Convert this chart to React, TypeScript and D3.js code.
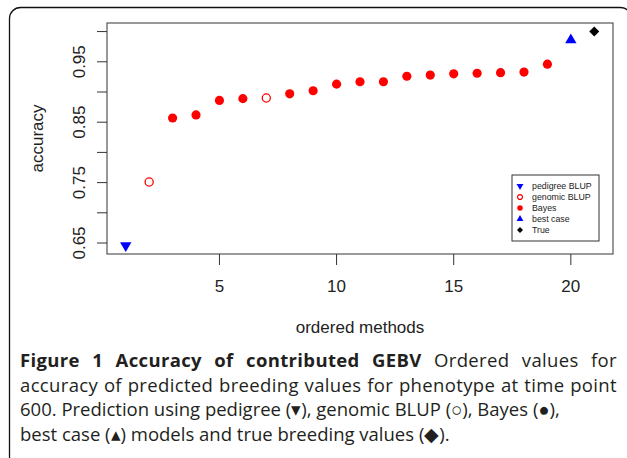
import React, { useEffect, useRef } from 'react';
import * as d3 from 'd3';

// ordered methods 1..21 and their accuracy
const methodIndex = d3.range(1, 22);
const methodType = [
  'pedigree', 'gblup', 'bayes', 'bayes', 'bayes', 'bayes', 'gblup',
  'bayes', 'bayes', 'bayes', 'bayes', 'bayes', 'bayes', 'bayes',
  'bayes', 'bayes', 'bayes', 'bayes', 'bayes', 'best', 'true',
];
const accuracy = [
  0.646, 0.751, 0.857, 0.862, 0.886, 0.889, 0.890,
  0.897, 0.902, 0.913, 0.917, 0.917, 0.926, 0.928,
  0.930, 0.931, 0.932, 0.933, 0.946, 0.986, 1.0,
];
const yTicks = [0.65, 0.7, 0.75, 0.8, 0.85, 0.9, 0.95, 1.0];
const yLabels = [0.65, 0.75, 0.85, 0.95];
const xTicks = [5, 10, 15, 20];
const legendKeys = ['pedigree', 'gblup', 'bayes', 'best', 'true'];
const legendLabels = ['pedigree BLUP', 'genomic BLUP', 'Bayes', 'best case', 'True'];

const captionBold = 'Figure 1 Accuracy of contributed GEBV';
const captionLines = [
  ' Ordered values for',
  'accuracy of predicted breeding values for phenotype at time point',
  '600. Prediction using pedigree (\u25BE), genomic BLUP (\u25CB), Bayes (\u25CF),',
  'best case (\u25B4) models and true breeding values (\u25C6).',
];
// justified lines stretch to the right margin
const captionJustify = [true, true, false, false];

export default function App() {
  const ref = useRef<SVGSVGElement>(null);

  useEffect(() => {
    if (!ref.current) return;
    const svg = d3.select(ref.current);
    svg.selectAll('*').remove();

    const width = 627;
    const height = 458;
    const plot = { left: 107, right: 613, top: 23, bottom: 254 };

    svg.attr('width', width).attr('height', height);
    svg.append('rect').attr('width', width).attr('height', height).attr('fill', 'white');

    // outer figure frame
    svg.append('rect')
      .attr('x', 9.5).attr('y', 7.5)
      .attr('width', 622).attr('height', 460)
      .attr('rx', 11)
      .attr('fill', 'none')
      .attr('stroke', '#111')
      .attr('stroke-width', 1.3);

    const x = d3.scaleLinear().domain([0.2, 21.8]).range([plot.left, plot.right]);
    const y = d3.scaleLinear().domain([0.6318, 1.0142]).range([plot.bottom, plot.top]);

    const axisFont = "'Liberation Sans', Arial, sans-serif";

    // plot box
    svg.append('rect')
      .attr('x', plot.left).attr('y', plot.top)
      .attr('width', plot.right - plot.left).attr('height', plot.bottom - plot.top)
      .attr('fill', 'none')
      .attr('stroke', '#555')
      .attr('stroke-width', 1.2);

    // y axis
    const yAxis = svg.append('g');
    yAxis.selectAll('line')
      .data(yTicks)
      .join('line')
      .attr('x1', plot.left - 10).attr('x2', plot.left)
      .attr('y1', d => y(d)).attr('y2', d => y(d))
      .attr('stroke', '#333');
    yAxis.selectAll('text')
      .data(yLabels)
      .join('text')
      .attr('transform', d => `translate(85,${y(d)}) rotate(-90)`)
      .attr('text-anchor', 'middle')
      .style('font-family', axisFont)
      .style('font-size', '17px')
      .attr('fill', '#222')
      .text(d => d.toFixed(2));

    // x axis
    const xAxis = svg.append('g');
    xAxis.selectAll('line')
      .data(xTicks)
      .join('line')
      .attr('x1', d => x(d)).attr('x2', d => x(d))
      .attr('y1', plot.bottom).attr('y2', plot.bottom + 11)
      .attr('stroke', '#333');
    xAxis.selectAll('text')
      .data(xTicks)
      .join('text')
      .attr('x', d => x(d))
      .attr('y', 292)
      .attr('text-anchor', 'middle')
      .style('font-family', axisFont)
      .style('font-size', '17px')
      .attr('fill', '#222')
      .text(d => d);

    // axis titles
    svg.append('text')
      .attr('x', (plot.left + plot.right) / 2)
      .attr('y', 333)
      .attr('text-anchor', 'middle')
      .style('font-family', axisFont)
      .style('font-size', '17px')
      .attr('fill', '#222')
      .text('ordered methods');
    svg.append('text')
      .attr('transform', `translate(43,${(plot.top + plot.bottom) / 2}) rotate(-90)`)
      .attr('text-anchor', 'middle')
      .style('font-family', axisFont)
      .style('font-size', '17px')
      .attr('fill', '#222')
      .text('accuracy');

    // marker styling per method type
    const markerPath = (type: string, scale: number) => {
      if (type === 'pedigree' || type === 'best') {
        return d3.symbol().type(d3.symbolTriangle).size(56 * scale * scale)();
      }
      if (type === 'true') return d3.symbol().type(d3.symbolSquare).size(50 * scale * scale)();
      if (type === 'gblup') return d3.symbol().type(d3.symbolCircle).size(52 * scale * scale)();
      return d3.symbol().type(d3.symbolCircle).size(66 * scale * scale)();
    };
    const markerRotate = (type: string) =>
      type === 'pedigree' ? 180 : type === 'true' ? 45 : 0;
    const fillOf = (type: string) =>
      type === 'gblup' ? 'none' : type === 'bayes' ? '#ff0000' : type === 'true' ? '#000' : '#0000ff';
    const strokeOf = (type: string) => (type === 'gblup' ? '#ff0000' : 'none');

    svg.append('g')
      .selectAll('path')
      .data(methodIndex)
      .join('path')
      .attr('d', (d, i) => markerPath(methodType[i], 1))
      .attr('transform', (d, i) =>
        `translate(${x(d)},${y(accuracy[i])}) rotate(${markerRotate(methodType[i])})`)
      .attr('fill', (d, i) => fillOf(methodType[i]))
      .attr('stroke', (d, i) => strokeOf(methodType[i]))
      .attr('stroke-width', 1.3);

    // legend
    const lg = svg.append('g').attr('transform', 'translate(512,175)');
    lg.append('rect')
      .attr('width', 87).attr('height', 66)
      .attr('fill', 'white')
      .attr('stroke', '#333')
      .attr('stroke-width', 1);
    const items = lg.selectAll('g.item')
      .data(legendKeys)
      .join('g')
      .attr('class', 'item')
      .attr('transform', (d, i) => `translate(0,${11 + i * 11})`);
    items.append('path')
      .attr('d', d => markerPath(d, 0.6))
      .attr('transform', d => `translate(8,0) rotate(${markerRotate(d)})`)
      .attr('fill', d => fillOf(d))
      .attr('stroke', d => strokeOf(d))
      .attr('stroke-width', 1.2);
    items.append('text')
      .attr('x', 20)
      .attr('y', 3)
      .style('font-family', axisFont)
      .style('font-size', '8.8px')
      .attr('fill', '#222')
      .text((d, i) => legendLabels[i]);

    // caption
    const capFont = "'Open Sans', 'Noto Sans', sans-serif";
    const capLeft = 20;
    const capRight = 617;
    const capText = (i: number) => svg.append('text')
      .attr('x', capLeft)
      .attr('y', 367 + i * 24.5)
      .style('font-family', capFont)
      .style('font-size', '18.5px')
      .attr('fill', '#231f20');

    const lines = captionLines.map((line, i) => {
      const t = capText(i);
      if (i === 0) {
        t.append('tspan').style('font-weight', 'bold').text(captionBold);
        t.append('tspan').text(line);
      } else {
        t.text(line);
      }
      return t;
    });

    // stretch justified lines: a little letter spacing, the rest between words
    lines.forEach((t, i) => {
      if (!captionJustify[i]) return;
      const full = i === 0 ? captionBold + captionLines[0] : captionLines[i];
      const spaces = (full.match(/ /g) || []).length;
      const ls = 0.35;
      t.style('letter-spacing', `${ls}px`);
      const w = (t.node() as SVGTextElement).getComputedTextLength();
      const extra = (capRight - capLeft - w) / spaces;
      if (extra > 0) t.style('word-spacing', `${extra}px`);
    });
  }, []);

  return (
    <div style={{ position: 'absolute', left: 0, top: 0 }}>
      <svg ref={ref} style={{ display: 'block' }} />
    </div>
  );
}
